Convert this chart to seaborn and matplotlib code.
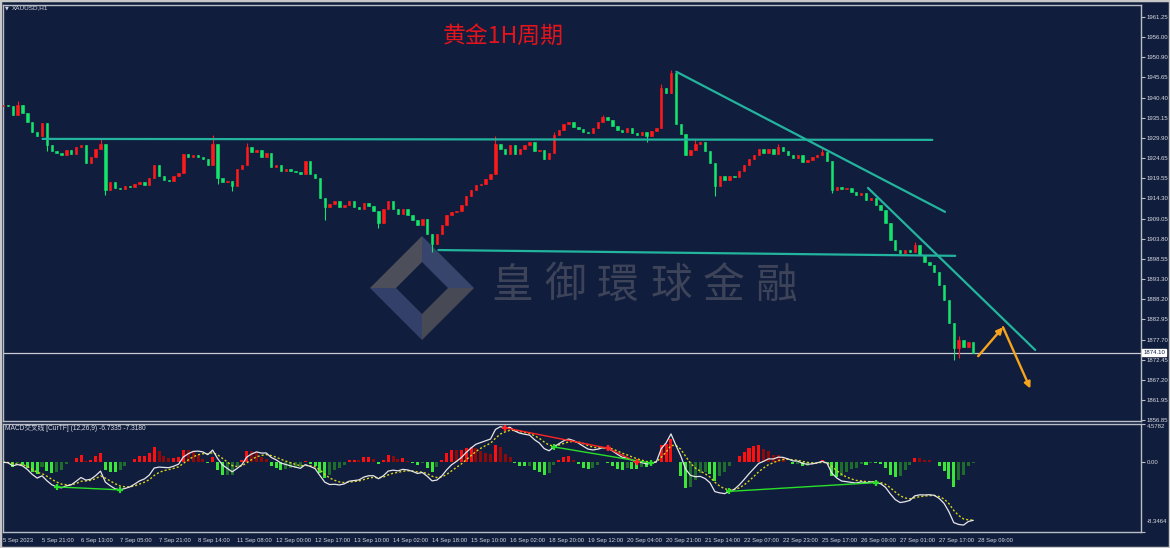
import numpy as np
import pandas as pd
import matplotlib
matplotlib.use('Agg')
import matplotlib.pyplot as plt
import matplotlib.transforms as mtransforms
from matplotlib.patches import Polygon, Rectangle
import seaborn as sns

# ---------------- data (2-hour candles) ----------------
first_open = 1938.2
closes = [
    1938.6, 1938.2, 1935.8, 1938.4, 1936.5, 1934.0, 1931.5, 1930.5, 1933.8, 1928.0,
    1926.5, 1926.0, 1925.5, 1926.8, 1925.8, 1927.5, 1928.2, 1923.5, 1925.0, 1927.0,
    1928.5, 1916.5, 1918.5, 1917.0, 1916.8, 1917.5, 1917.2, 1918.0, 1918.5, 1917.8,
    1919.5, 1923.0, 1920.0, 1919.0, 1918.8, 1920.0, 1920.8, 1925.8, 1925.0, 1925.5,
    1925.0, 1924.5, 1923.0, 1928.5, 1919.5, 1918.5, 1918.8, 1917.5, 1921.8, 1923.0,
    1927.5, 1926.3, 1926.7, 1925.0, 1926.0, 1922.5, 1923.0, 1921.5, 1922.0, 1921.5,
    1921.0, 1920.5, 1924.0, 1920.5, 1919.5, 1914.5, 1912.0, 1912.8, 1913.5, 1912.0,
    1912.5, 1913.5, 1912.0, 1911.5, 1913.0, 1912.2, 1911.0, 1908.0, 1911.5, 1913.5,
    1911.5, 1910.2, 1911.5, 1910.0, 1908.8, 1907.5, 1909.0, 1905.0, 1902.5, 1905.0,
    1907.5, 1910.0, 1910.8, 1911.0, 1912.5, 1915.0, 1916.5, 1917.8, 1918.0, 1919.2,
    1920.5, 1928.5, 1927.0, 1925.8, 1928.0, 1925.8, 1927.0, 1928.2, 1929.0, 1926.5,
    1926.8, 1924.5, 1926.0, 1930.8, 1932.0, 1933.5, 1934.2, 1932.8, 1932.2, 1931.5,
    1931.2, 1932.5, 1934.0, 1935.3, 1934.6, 1933.0, 1932.0, 1931.5, 1932.6, 1931.2,
    1930.8, 1931.5, 1930.5, 1931.8, 1932.5, 1943.0, 1941.5, 1946.8, 1933.5, 1931.0,
    1925.5, 1926.8, 1928.5, 1929.0, 1926.5, 1923.5, 1917.5, 1920.0, 1919.0, 1920.2,
    1919.8, 1921.5, 1923.0, 1924.5, 1925.5, 1927.0, 1926.0, 1927.0, 1925.8, 1927.5,
    1926.5, 1925.5, 1924.8, 1925.6, 1923.8, 1924.3, 1925.0, 1925.6, 1926.3, 1924.0,
    1916.5, 1917.2, 1916.6, 1917.0, 1916.0, 1915.2, 1915.8, 1913.8, 1914.3, 1912.5,
    1911.3, 1908.0, 1903.5, 1901.0, 1900.2, 1901.0, 1900.4, 1902.2, 1899.6, 1897.8,
    1897.0, 1895.2, 1891.8, 1888.0, 1882.0, 1875.5, 1877.5, 1875.8, 1877.0, 1874.1,
]
wick_high = {3: 1939.6, 20: 1929.6, 43: 1930.6, 50: 1928.6, 101: 1930.5, 113: 1931.6,
             123: 1936.0, 135: 1944.0, 137: 1947.6, 142: 1929.8, 159: 1928.3, 168: 1927.4,
             187: 1903.0, 196: 1878.6}
wick_low = {9: 1926.6, 21: 1915.2, 44: 1918.0, 47: 1916.2, 66: 1908.6, 77: 1906.6,
            88: 1900.4, 132: 1929.0, 146: 1915.0, 170: 1915.6, 195: 1872.4, 196: 1873.0}

current_price = 1874.10

x_tick_labels = ["5 Sep 2023", "5 Sep 21:00", "6 Sep 13:00", "7 Sep 05:00", "7 Sep 21:00",
                 "8 Sep 14:00", "11 Sep 08:00", "12 Sep 00:00", "12 Sep 17:00", "13 Sep 10:00",
                 "14 Sep 02:00", "14 Sep 18:00", "15 Sep 10:00", "16 Sep 02:00", "18 Sep 20:00",
                 "19 Sep 12:00", "20 Sep 04:00", "20 Sep 21:00", "21 Sep 14:00", "22 Sep 07:00",
                 "22 Sep 23:00", "25 Sep 17:00", "26 Sep 09:00", "27 Sep 01:00", "27 Sep 17:00",
                 "28 Sep 09:00"]
price_ticks = [1961.25, 1956.00, 1950.90, 1945.65, 1940.40, 1935.15, 1929.90, 1924.65,
               1919.55, 1914.30, 1909.05, 1903.80, 1898.55, 1893.30, 1888.20, 1882.95,
               1877.70, 1872.45, 1867.20, 1861.95, 1856.85]
macd_max, macd_min = 4.5782, -8.3464
macd_ticks = [macd_max, 0.0, macd_min]
macd_tick_labels = ["4.5782", "0.00", "-8.3464"]

# drawn lines (candle index, price)
line_top_idx, line_top_px = [8.1, 190.6], [1929.70, 1929.45]
line_sup_idx, line_sup_px = [89.3, 195.3], [1900.90, 1899.40]
line_res1_idx, line_res1_px = [138.1, 193.2], [1947.10, 1910.80]
line_res2_idx, line_res2_px = [177.4, 211.7], [1917.00, 1875.00]
arrow_idx = [200.0, 205.1, 210.7]
arrow_px = [1873.4, 1880.9, 1865.0]

# MACD divergence marks (pairs of candle indices joined on the MACD line)
div_bear = [(103, 124), (124, 130)]
div_bull = [(11, 24), (113, 133), (149, 179)]

# ---------------- style ----------------
sns.set_theme(style='dark')
BG = '#111d3c'
FG = '#d6d9e0'
FRAME = '#b9bdc7'
plt.rcParams['font.family'] = ['DejaVu Sans']
CJK = ['Noto Sans CJK SC', 'DejaVu Sans']
SMALL = ['Liberation Sans', 'DejaVu Sans']

W, H = 1170, 548
fig = plt.figure(figsize=(W / 100, H / 100), dpi=100, facecolor=BG)


def rect(l, t, r, b):
    return [l / W, 1 - b / H, (r - l) / W, (b - t) / H]


ax = fig.add_axes(rect(3, 5, 1141, 421))
axm = fig.add_axes(rect(3, 424, 1141, 532))
for a in (ax, axm):
    a.set_facecolor(BG)
    a.grid(False)
    for s in a.spines.values():
        s.set_color(FRAME)
        s.set_linewidth(1.0)

n = len(closes)
idx = np.arange(n)
opens = [first_open] + closes[:-1]
highs = [wick_high.get(i, max(o, c)) for i, (o, c) in enumerate(zip(opens, closes))]
lows = [wick_low.get(i, min(o, c)) for i, (o, c) in enumerate(zip(opens, closes))]
df = pd.DataFrame({'idx': idx, 'open': opens, 'close': closes, 'high': highs, 'low': lows})
up = df['close'] >= df['open']
UPC, DNC = '#ff1a1a', '#14e36c'
colors = np.where(up, UPC, DNC)

# pixel-coordinate transform (y measured from top)
pix = mtransforms.Affine2D().scale(1, -1).translate(0, H)

# watermark logo + text
logo = [
    ([(370, 288), (422, 236), (422, 262), (396, 288)], '#4c4f59'),
    ([(422, 236), (474, 288), (448, 288), (422, 262)], '#37446c'),
    ([(370, 288), (396, 288), (422, 314), (422, 340)], '#33416a'),
    ([(474, 288), (422, 340), (422, 314), (448, 288)], '#474a54'),
]
for pts, col in logo:
    ax.add_patch(Polygon(pts, closed=True, facecolor=col, edgecolor='none',
                         transform=pix, zorder=0.5))
for k, ch in enumerate("皇御環球金融"):
    ax.text(512 + k * 53, 286, ch, transform=pix, fontsize=30, color='#3d4459',
            ha='center', va='center', family=['Noto Sans CJK TC', 'DejaVu Sans'], zorder=0.6)

# candles
ax.vlines(df['idx'], df['low'], df['high'], colors=colors, linewidth=0.8, zorder=2)
ax.bar(df['idx'], df['close'] - df['open'], bottom=df['open'], width=0.5,
       color=colors, edgecolor=colors, linewidth=0.4, zorder=3)

ax.axhline(current_price, color='#c9ccd4', linewidth=0.9, zorder=1.5)

TEAL = '#22b49e'
for xi, yi in [(line_top_idx, line_top_px), (line_sup_idx, line_sup_px),
               (line_res1_idx, line_res1_px), (line_res2_idx, line_res2_px)]:
    sns.lineplot(x=xi, y=yi, ax=ax, color=TEAL, linewidth=1.6, zorder=4)

ORANGE = '#f5a41c'
for j in range(2):
    ax.annotate('', xy=(arrow_idx[j + 1], arrow_px[j + 1]), xytext=(arrow_idx[j], arrow_px[j]),
                arrowprops=dict(arrowstyle='-|>', color=ORANGE, lw=1.7, mutation_scale=9,
                                shrinkA=0, shrinkB=0), zorder=5)

XMAX = 233.4
ax.set_xlim(0, XMAX)
ax.set_ylim(1856.6, 1964.4)
ax.set_xticks([])
ax.yaxis.tick_right()
ax.set_yticks(price_ticks)
ax.set_yticklabels([f"{v:.2f}" for v in price_ticks], family=SMALL)
ax.tick_params(axis='y', direction='out', length=3, width=0.8, color=FRAME,
               labelsize=4.3, labelcolor=FG, pad=1.2)
ax.set_xlabel('')
ax.set_ylabel('')

ax.annotate(f"{current_price:.2f}", xy=(1.0, current_price), xycoords=('axes fraction', 'data'),
            xytext=(1.6, 0.6), textcoords='offset points', fontsize=4.3, color='#13224a',
            ha='left', va='center', family=SMALL,
            bbox=dict(boxstyle='square,pad=0.15', fc='white', ec='white'), zorder=10,
            annotation_clip=False)

# ---------------- MACD ----------------
s = pd.Series(closes)
bars_per_candle = 2
a_fast = 1 - (1 - 2 / 13) ** bars_per_candle
a_slow = 1 - (1 - 2 / 27) ** bars_per_candle
a_sig = 1 - (1 - 2 / 10) ** bars_per_candle
macd = s.ewm(alpha=a_fast, adjust=False).mean() - s.ewm(alpha=a_slow, adjust=False).mean()
signal = macd.ewm(alpha=a_sig, adjust=False).mean()
hist = 2 * (macd - signal)
prev = hist.shift(1).fillna(0)
hcol = []
for h, p in zip(hist, prev):
    if h >= 0:
        hcol.append('#ff1010' if h >= p else '#8e0a0a')
    else:
        hcol.append('#3be63b' if h <= p else '#1f6d2c')
axm.bar(idx, hist, width=0.62, color=hcol, linewidth=0, zorder=2)
mdf = pd.DataFrame({'idx': idx, 'macd': macd, 'signal': signal})
sns.lineplot(data=mdf, x='idx', y='macd', ax=axm, color='#e6e6ea', linewidth=0.9, zorder=4)
sns.lineplot(data=mdf, x='idx', y='signal', ax=axm, color='#d8d21c', linewidth=1.0,
             linestyle=(0, (1.5, 1.5)), zorder=3)

for pairs, col in [(div_bear, '#ff2424'), (div_bull, '#28e028')]:
    for i0, i1 in pairs:
        xs, ys = [i0, i1], [macd[i0], macd[i1]]
        axm.plot(xs, ys, color=col, linewidth=1.0, zorder=5)
        axm.plot(xs, ys, linestyle='none', marker='+', markersize=5, mew=1.6, color=col, zorder=6)

axm.set_xlim(0, XMAX)
axm.set_ylim(macd_min, macd_max)
axm.yaxis.tick_right()
axm.set_yticks(macd_ticks)
axm.set_yticklabels(macd_tick_labels, family=SMALL)
axm.tick_params(axis='y', direction='out', length=3, width=0.8, color=FRAME,
                labelsize=4.3, labelcolor=FG, pad=1.2)
ylabs = axm.get_yticklabels()
ylabs[0].set_verticalalignment('top')
ylabs[2].set_transform(ylabs[2].get_transform() +
                       mtransforms.ScaledTranslation(0, 11 / 100, fig.dpi_scale_trans))
tick_pos = [8 * k for k in range(len(x_tick_labels))]
axm.set_xticks(tick_pos)
axm.set_xticklabels(x_tick_labels, family=SMALL)
axm.tick_params(axis='x', direction='out', length=3, width=0.8, color=FRAME,
                labelsize=4.2, labelcolor=FG, pad=1.5)
for lab in axm.get_xticklabels():
    lab.set_horizontalalignment('left')
axm.set_xlabel('')
axm.set_ylabel('')

# ---------------- texts ----------------
fig.text(5 / W, 1 - 8 / H, '▼', fontsize=3.5, color=FG, va='center', ha='left')
fig.text(12 / W, 1 - 8 / H, 'XAUUSD,H1', fontsize=4.6, color=FG, va='center', ha='left',
         family=SMALL)
fig.text(443 / W, 1 - 36 / H, '黄金1H周期', fontsize=16.5, color='#e3141c', va='center',
         ha='left', family=CJK)
fig.text(5 / W, 1 - 428.5 / H, 'MACD交叉线 [CurTF] (12,26,9) -6.7335 -7.3180', fontsize=4.8,
         color=FG, va='center', ha='left',
         family=['Liberation Sans', 'Noto Sans CJK SC', 'DejaVu Sans'])

fig.patches.append(Rectangle((0, 0), 1, 1, transform=fig.transFigure, fill=False,
                             edgecolor='#c8c8c8', linewidth=2.5))

fig.savefig('out.png', dpi=100, facecolor=BG)
